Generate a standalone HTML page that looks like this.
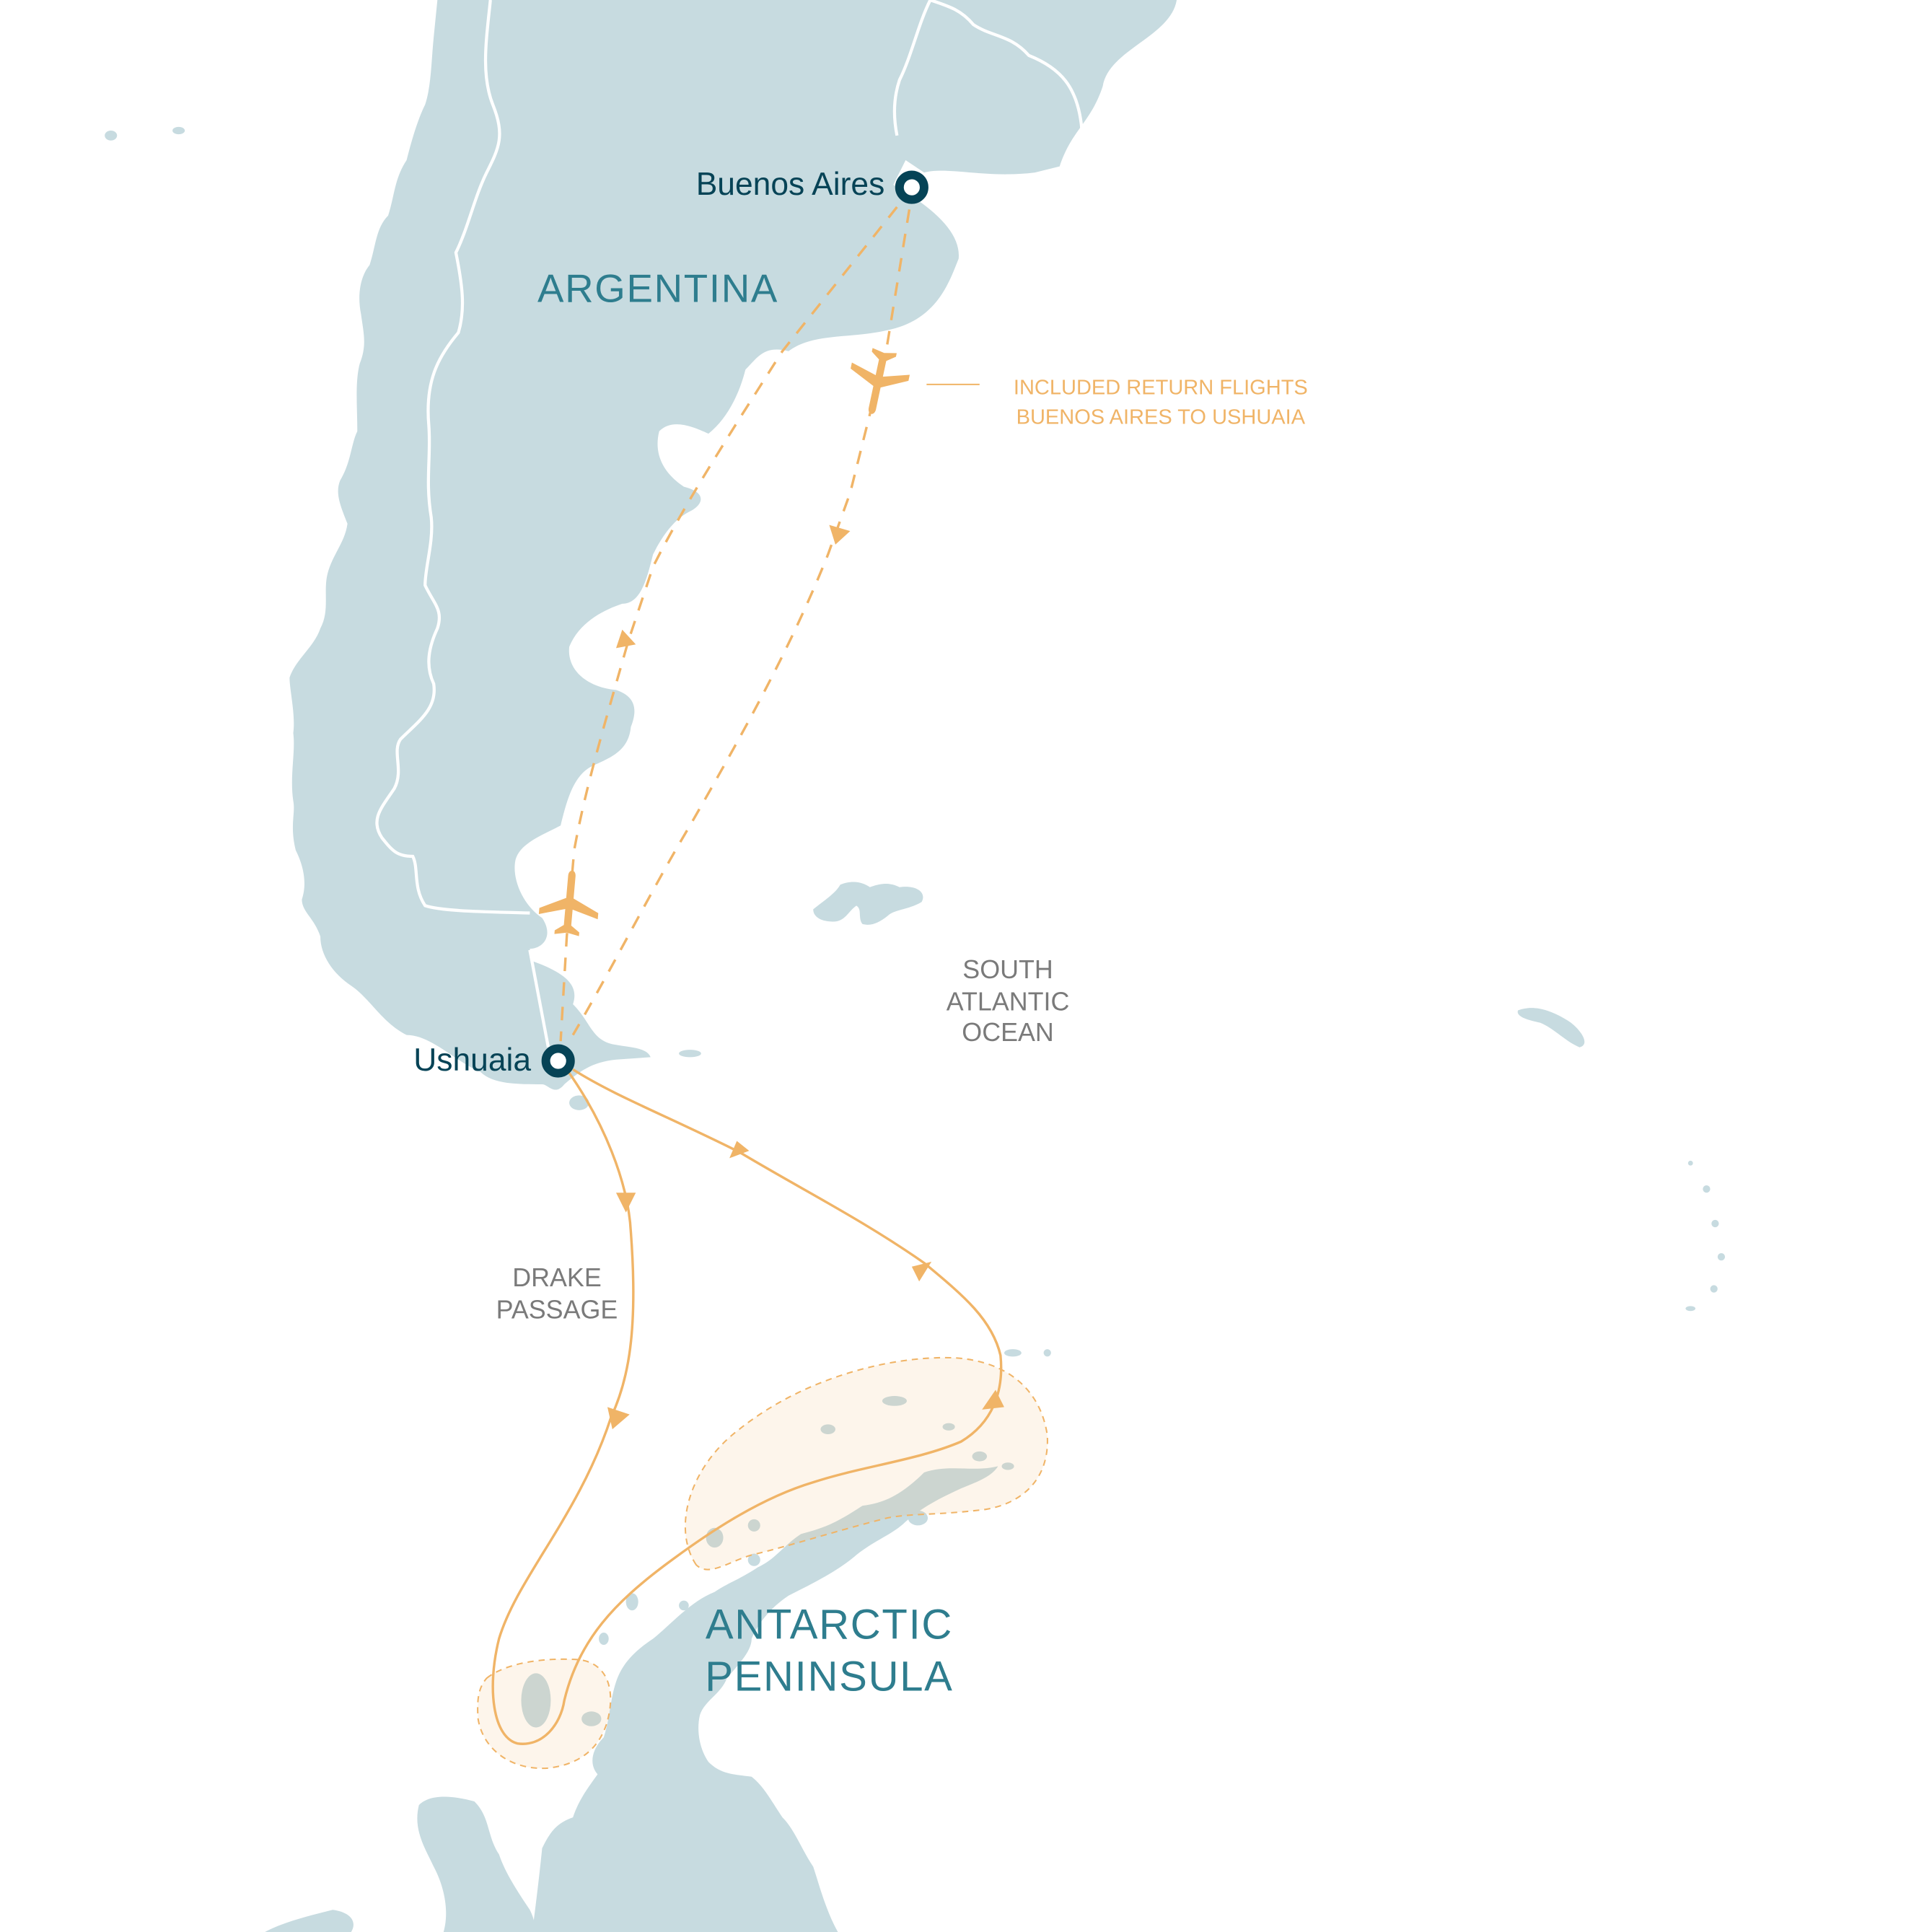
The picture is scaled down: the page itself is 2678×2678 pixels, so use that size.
<!DOCTYPE html>
<html><head><meta charset="utf-8"><style>
html,body{margin:0;padding:0;background:#fff}
svg{display:block}
text{font-family:"Liberation Sans",sans-serif}
</style></head><body>
<svg width="2678" height="2678" viewBox="0 0 1568 1568" xmlns="http://www.w3.org/2000/svg">
<g fill="#c7dbe0">
<path d="M355,0 L955,0 C950,30 900,40 895,70 C885,100 870,105 860,135 L840,140 C800,145 770,135 750,140 L735,130 L725,150 C760,170 780,190 778,210 C770,230 760,260 720,268 C690,275 660,270 640,285 C620,280 615,290 605,300 C600,320 590,340 575,352 C560,345 545,340 535,350 C530,370 540,385 555,395 C575,400 570,410 560,415 C550,420 540,430 530,450 C525,470 520,490 505,490 C490,495 470,505 462,525 C460,545 478,558 500,560 C515,565 518,575 512,590 C510,610 495,615 480,622 C465,630 460,650 455,670 C440,678 420,685 418,700 C416,715 425,735 440,745 C450,760 440,770 430,770 L432,780 C460,790 470,800 465,815 C480,830 480,845 500,848 C510,850 525,850 528,858 L500,860 C480,862 470,870 458,880 C450,890 445,880 440,880 C420,880 400,880 390,870 C370,862 350,840 330,840 C310,830 300,810 285,800 C270,790 260,775 260,760 C255,745 245,740 245,730 C250,715 245,700 240,690 C235,670 240,660 238,650 C235,630 240,610 238,595 C240,580 235,560 235,550 C240,535 255,525 260,510 C268,495 262,480 266,465 C270,450 280,440 282,425 C276,410 272,400 276,390 C285,375 285,360 290,350 C290,330 288,310 292,295 C298,280 295,270 293,255 C290,240 292,225 300,215 C305,200 305,185 315,175 C320,160 320,145 330,130 C335,110 340,95 345,85 C350,70 350,50 352,30 Z"/>
<path d="M660,738 C670,730 678,725 682,718 C692,714 700,716 706,720 C712,718 720,715 730,720 C745,718 752,725 748,732 C738,738 728,738 722,742 C715,748 708,752 700,750 C696,745 700,738 695,735 C688,740 686,748 676,748 C668,748 660,745 660,738 Z"/>
<ellipse cx="90" cy="110" rx="5" ry="4"/>
<ellipse cx="145" cy="106" rx="5" ry="3"/>
<ellipse cx="560" cy="855" rx="9" ry="3"/>
<path d="M1232,820 C1245,815 1260,820 1275,830 C1285,838 1290,848 1282,850 C1270,845 1262,835 1250,830 C1240,828 1230,825 1232,820 Z"/>
<ellipse cx="1385" cy="965" rx="3" ry="3"/>
<ellipse cx="1392" cy="993" rx="3" ry="3"/>
<ellipse cx="1397" cy="1020" rx="3" ry="3"/>
<ellipse cx="1391" cy="1046" rx="3" ry="3"/>
<ellipse cx="1372" cy="1062" rx="4" ry="2"/>
<ellipse cx="1372" cy="944" rx="2" ry="2"/>
<ellipse cx="470" cy="895" rx="8" ry="6"/>
<ellipse cx="822" cy="1098" rx="7" ry="3"/>
<ellipse cx="850" cy="1098" rx="3" ry="3"/>
<ellipse cx="726" cy="1137" rx="10" ry="4"/>
<ellipse cx="672" cy="1160" rx="6" ry="4"/>
<ellipse cx="770" cy="1158" rx="5" ry="3"/>
<ellipse cx="795" cy="1182" rx="6" ry="4"/>
<ellipse cx="818" cy="1190" rx="5" ry="3"/>
<ellipse cx="745" cy="1232" rx="8" ry="6"/>
<ellipse cx="715" cy="1238" rx="6" ry="5"/>
<ellipse cx="688" cy="1250" rx="6" ry="8"/>
<ellipse cx="612" cy="1238" rx="5" ry="5"/>
<ellipse cx="580" cy="1248" rx="7" ry="8"/>
<ellipse cx="612" cy="1266" rx="5" ry="5"/>
<ellipse cx="555" cy="1303" rx="4" ry="4"/>
<ellipse cx="513" cy="1300" rx="5" ry="7"/>
<ellipse cx="490" cy="1330" rx="4" ry="5"/>
<ellipse cx="435" cy="1380" rx="12" ry="22"/>
<ellipse cx="480" cy="1395" rx="8" ry="6"/>
<path d="M810,1190 C790,1195 770,1188 750,1195 C735,1210 720,1220 700,1222 C680,1235 670,1240 650,1245 C635,1255 630,1265 615,1272 C600,1282 590,1285 580,1292 C560,1300 545,1318 530,1330 C515,1340 505,1350 500,1365 C495,1380 495,1395 490,1410 C480,1420 478,1432 485,1440 C478,1450 470,1460 465,1475 C450,1480 445,1490 440,1500 C438,1520 435,1545 432,1568 L680,1568 C670,1550 665,1530 660,1515 C650,1500 645,1485 635,1475 C625,1460 620,1450 610,1442 C595,1440 585,1440 575,1430 C568,1420 565,1405 568,1392 C572,1380 585,1375 590,1362 C600,1350 610,1340 610,1330 C615,1318 625,1305 640,1295 C660,1285 680,1275 695,1262 C710,1250 725,1245 735,1235 C750,1222 765,1215 780,1208 C795,1202 805,1198 810,1190 Z"/>
<path d="M340,1465 C350,1455 370,1458 385,1462 C398,1475 395,1490 405,1505 C410,1520 420,1535 430,1550 C435,1560 435,1568 432,1568 L360,1568 C365,1550 360,1530 352,1515 C345,1500 335,1485 340,1465 Z"/>
<path d="M215,1568 C230,1560 250,1555 270,1550 C285,1552 290,1560 285,1568 Z"/>
</g>
<g fill="none" stroke="#fff" stroke-width="2.5">
<path d="M398,0 C395,30 390,60 400,85 C410,110 405,120 395,140 C385,160 380,185 370,205 C375,230 378,250 372,270 C355,290 345,310 348,345 C350,370 345,390 350,420 C352,440 345,460 345,475 C352,490 360,495 355,510 C348,525 345,540 352,555 C355,575 340,585 325,600 C318,610 328,625 320,640 C310,655 300,665 310,680 C318,690 322,695 335,695 C340,705 335,720 345,735 C360,740 400,740 430,741"/>
<path d="M430,771 L445,850"/>
<path d="M755,0 C745,20 740,45 730,65 C725,80 725,95 728,110"/>
<path d="M755,0 C770,5 780,8 790,20 C805,30 820,28 835,45 C860,55 875,70 878,105"/>
</g>
<g fill="rgba(240,180,103,0.13)" stroke="#f0b467" stroke-width="1.2" stroke-dasharray="5,4">
<path d="M565,1270 C545,1240 560,1190 600,1160 C650,1120 720,1100 775,1102 C820,1105 845,1130 850,1165 C852,1200 830,1220 800,1225 C760,1230 740,1228 720,1232 C680,1242 640,1255 610,1262 C590,1268 575,1280 565,1270 Z"/>
<path d="M395,1362 C410,1350 440,1345 470,1347 C495,1350 500,1375 492,1400 C485,1420 470,1432 445,1435 C415,1437 392,1420 388,1395 C387,1380 388,1370 395,1362 Z"/>
</g>
<g fill="none" stroke="#f0b467" stroke-width="2">
<path d="M460,868 C490,910 510,960 512,1000 C518,1080 510,1120 496,1150 C470,1230 420,1280 405,1330 C395,1370 400,1410 420,1415 C440,1418 455,1400 458,1380 C470,1330 500,1300 540,1270 C580,1240 620,1215 660,1203 C700,1190 745,1185 780,1170 C805,1155 815,1130 812,1100 C805,1070 780,1050 750,1025 C700,990 650,965 600,935 C540,905 500,890 465,868"/>
</g>
<g fill="none" stroke="#f0b467" stroke-width="2" stroke-dasharray="11,9">
<path d="M738,170 L720,280 L705,340 L690,400 L672,450 C640,530 600,600 560,670 C530,720 500,780 465,840"/>
<path d="M728,168 L635,285 L600,340 C575,380 550,420 530,460 L510,520 C490,590 475,640 466,690 L460,760 L455,845"/>
</g>
<line x1="752" y1="312" x2="795" y2="312" stroke="#f0b467" stroke-width="1.2"/>
<g fill="#f0b467">
<polygon points="500,968 516,968 508,984"/>
<polygon points="493,1142 511,1148 497,1160"/>
<polygon points="797,1144 815,1142 808,1128"/>
<polygon points="740,1028 756,1024 746,1040"/>
<polygon points="608,934 592,940 598,926"/>
<polygon points="673,426 690,431 678,442"/>
<polygon points="500,526 516,523 505,511"/>
<g transform="translate(713,308) rotate(192)">
<path d="M-3,-24 C-3,-30 3,-30 3,-24 L3,-6 L24,4 L24,9 L3,3 L3,16 L10,21 L10,24 L0,22 L-10,24 L-10,21 L-3,16 L-3,3 L-24,9 L-24,4 L-3,-6 Z"/>
</g>
<g transform="translate(462,735) rotate(5)">
<path d="M-3,-24 C-3,-30 3,-30 3,-24 L3,-6 L24,4 L24,9 L3,3 L3,16 L10,21 L10,24 L0,22 L-10,24 L-10,21 L-3,16 L-3,3 L-24,9 L-24,4 L-3,-6 Z"/>
</g>
</g>
<circle cx="740" cy="152" r="10" fill="#fff" stroke="#064356" stroke-width="7"/>
<circle cx="453" cy="861" r="10" fill="#fff" stroke="#064356" stroke-width="7"/>
<text x="718" y="158" text-anchor="end" font-size="26" fill="#064356">Buenos Aires</text>
<text x="431" y="869" text-anchor="end" font-size="26" fill="#064356">Ushuaia</text>
<text x="534" y="245" text-anchor="middle" font-size="32" fill="#2e7d8e" font-family="Liberation Serif" letter-spacing="1">ARGENTINA</text>
<text x="673" y="1330" text-anchor="middle" font-size="34" fill="#2e7d8e" font-family="Liberation Serif" letter-spacing="1">ANTARCTIC</text>
<text x="673" y="1372" text-anchor="middle" font-size="34" fill="#2e7d8e" font-family="Liberation Serif" letter-spacing="1">PENINSULA</text>
<g font-size="21" fill="#7a7a7a" text-anchor="middle" font-family="Liberation Serif">
<text x="818" y="794">SOUTH</text>
<text x="818" y="820">ATLANTIC</text>
<text x="818" y="845">OCEAN</text>
<text x="452" y="1044">DRAKE</text>
<text x="452" y="1070">PASSAGE</text>
</g>
<g font-size="17" fill="#f0b467" text-anchor="middle">
<text x="942" y="320">INCLUDED RETURN FLIGHTS</text>
<text x="942" y="344">BUENOS AIRES TO USHUAIA</text>
</g>
</svg>
</body></html>
